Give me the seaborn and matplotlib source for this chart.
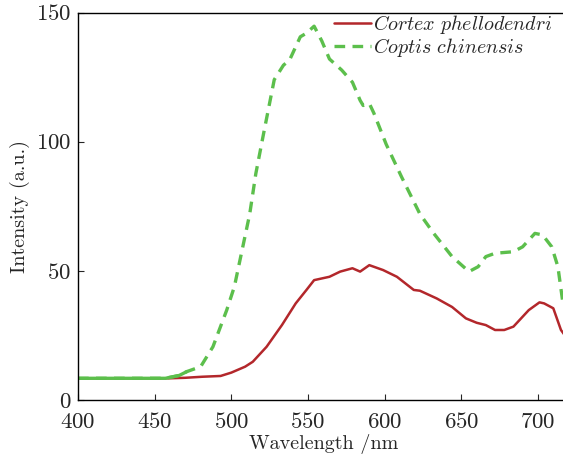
import seaborn as sns
import matplotlib.pyplot as plt
import pandas as pd
import numpy as np

# wavelengths (nm) and intensities (a.u.)
wl_cortex = [400, 430, 460, 470, 481, 493, 500, 509, 514, 523, 533, 542, 549, 554,
             564, 571, 579, 584, 590, 599, 608, 619, 623, 634, 644, 653, 660, 666,
             672, 678, 684, 694, 701, 704, 710, 715, 720]
int_cortex = [8.4, 8.4, 8.4, 8.6, 9.0, 9.3, 10.6, 12.9, 14.8, 20.6, 29.0, 37.4, 42.6, 46.4,
              47.7, 49.7, 51.0, 49.7, 52.2, 50.3, 47.7, 42.6, 42.3, 39.3, 36.0, 31.6, 29.9, 29.0,
              27.1, 27.1, 28.4, 34.8, 37.8, 37.4, 35.5, 27.1, 23.0]

wl_coptis = [400, 430, 457, 466, 471, 480, 488, 497, 502, 512, 516, 521, 528, 534,
             538, 545, 549, 554, 559, 564, 572, 579, 584, 586, 590, 593, 601, 611,
             623, 632, 644, 655, 661, 666, 672, 684, 690, 698, 703, 709, 713, 716, 720]
int_coptis = [8.4, 8.4, 8.4, 9.5, 11.0, 12.9, 20.6, 34.8, 43.9, 72.0, 87.7, 103.0, 124.0, 129.6,
              131.6, 140.6, 142.0, 144.7, 139.0, 132.0, 127.7, 123.0, 116.0, 114.0, 114.8, 111.0, 99.0, 86.4,
              72.0, 64.5, 55.5, 49.7, 51.6, 55.5, 56.8, 57.4, 59.3, 64.5, 63.9, 59.3, 51.6, 38.7, 33.0]

labels = [r"$\mathit{Cortex\ phellodendri}$", r"$\mathit{Coptis\ chinensis}$"]

sns.set_style("ticks")
plt.rcParams["font.family"] = ["cmr10", "DejaVu Serif"]
plt.rcParams["mathtext.fontset"] = "cm"
plt.rcParams["axes.formatter.use_mathtext"] = True

fig = plt.figure(figsize=(5.63, 4.57), dpi=100)
ax = fig.add_axes([78 / 563, 1 - 400 / 457, 1 - 78 / 563 + 0.01, (400 - 12.5) / 457])

df_a = pd.DataFrame({"wl": wl_cortex, "val": int_cortex})
df_b = pd.DataFrame({"wl": wl_coptis, "val": int_coptis})

sns.lineplot(data=df_a, x="wl", y="val", ax=ax, color="#b3272b", linewidth=1.8,
             label=labels[0])
sns.lineplot(data=df_b, x="wl", y="val", ax=ax, color="#5cbf4c", linewidth=2.4,
             linestyle=(0, (3.2, 2.2)), label=labels[1])
# the flat baseline of the green trace looks solid in the original
sns.lineplot(data=df_b[df_b["wl"] <= 471], x="wl", y="val", ax=ax, color="#5cbf4c",
             linewidth=2.4, legend=False)

ax.set_xlim(400, 720)
ax.set_ylim(0, 150)
ax.set_xticks([400, 450, 500, 550, 600, 650, 700])
ax.set_yticks([0, 50, 100, 150])
ax.tick_params(direction="in", labelsize=16.5, length=4, width=0.8)
ax.tick_params(axis="x", pad=9)
ax.tick_params(axis="y", pad=5)
ax.set_xlabel("Wavelength /nm", fontsize=14.5, labelpad=1)
ax.set_ylabel("Intensity (a.u.)", fontsize=14.5, labelpad=4)
for s in ax.spines.values():
    s.set_linewidth(1.0)
    s.set_color("black")

ax.legend(loc="upper left", bbox_to_anchor=(0.505, 1.02), frameon=False,
          fontsize=14.5, handlelength=1.85, handletextpad=0.1, labelspacing=0.0,
          borderaxespad=0)

fig.savefig("out.png", dpi=100)
